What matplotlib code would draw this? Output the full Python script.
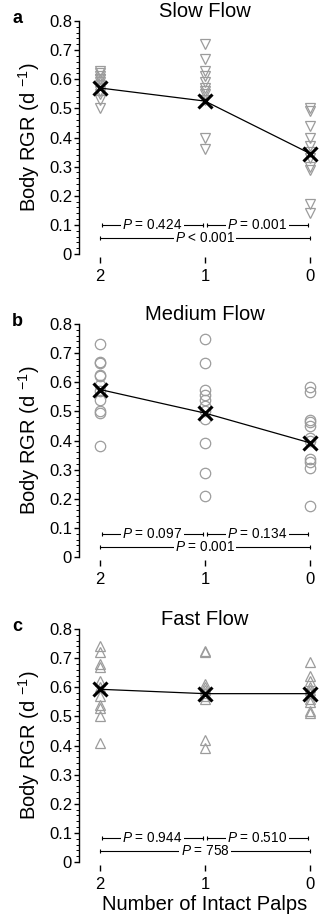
import matplotlib
matplotlib.use('Agg')
import numpy as np
import matplotlib.pyplot as plt
from matplotlib.ticker import MultipleLocator, FuncFormatter

plt.rcParams['font.family'] = ['Liberation Sans', 'DejaVu Sans']
plt.rcParams['mathtext.fontset'] = 'custom'
plt.rcParams['mathtext.rm'] = 'Liberation Sans'
plt.rcParams['mathtext.it'] = 'Liberation Sans:italic'

# ---------------- data ----------------
categories = ['2', '1', '0']
panel_letters = ['a', 'b', 'c']
titles = ['Slow Flow', 'Medium Flow', 'Fast Flow']

slow_2 = [0.63, 0.62, 0.61, 0.60, 0.60, 0.59, 0.58, 0.56, 0.55, 0.53, 0.50]
slow_1 = [0.72, 0.67, 0.63, 0.61, 0.59, 0.57, 0.56, 0.55, 0.53, 0.40, 0.36]
slow_0 = [0.50, 0.49, 0.44, 0.40, 0.37, 0.35, 0.33, 0.30, 0.29, 0.17, 0.14]
slow_means = [0.570, 0.525, 0.345]
slow_p = ['= 0.424', '= 0.001', '< 0.001']

medium_2 = [0.73, 0.67, 0.665, 0.625, 0.62, 0.59, 0.57, 0.54, 0.50, 0.495, 0.38]
medium_1 = [0.75, 0.665, 0.575, 0.555, 0.54, 0.52, 0.50, 0.475, 0.39, 0.29, 0.21]
medium_0 = [0.585, 0.565, 0.47, 0.465, 0.45, 0.41, 0.40, 0.335, 0.325, 0.305, 0.175]
medium_means = [0.575, 0.494, 0.392]
medium_p = ['= 0.097', '= 0.134', '= 0.001']

fast_2 = [0.74, 0.72, 0.68, 0.67, 0.62, 0.60, 0.57, 0.54, 0.53, 0.50, 0.41]
fast_1 = [0.725, 0.72, 0.61, 0.60, 0.59, 0.58, 0.57, 0.56, 0.42, 0.39]
fast_0 = [0.685, 0.64, 0.62, 0.60, 0.59, 0.58, 0.56, 0.55, 0.52, 0.51]
fast_means = [0.593, 0.578, 0.578]
fast_p = ['= 0.944', '= 0.510', '= 758']

panels = [
    dict(groups=[slow_2, slow_1, slow_0], means=slow_means, p=slow_p, marker='v', bar_y=(0.100, 0.054)),
    dict(groups=[medium_2, medium_1, medium_0], means=medium_means, p=medium_p, marker='o', bar_y=(0.079, 0.033)),
    dict(groups=[fast_2, fast_1, fast_0], means=fast_means, p=fast_p, marker='^', bar_y=(0.082, 0.037)),
]

# ---------------- figure ----------------
W, H = 332, 919
fig = plt.figure(figsize=(W / 100, H / 100), dpi=100)

left, width = 79 / W, 252 / W
bottoms_px = [254, 557, 862]
height = 233 / H

gray = '#9c9c9c'
xpos = np.arange(len(categories))

for i, pan in enumerate(panels):
    ax = fig.add_axes([left, 1 - bottoms_px[i] / H, width, height])
    for x, vals in zip(xpos, pan['groups']):
        ax.plot(np.full(len(vals), x), vals, ls='none', marker=pan['marker'],
                mfc='none', mec=gray, ms=7.5, mew=0.9, zorder=2)
    ax.plot(xpos, pan['means'], '-', color='black', lw=0.9, zorder=3)
    ax.plot(xpos, pan['means'], ls='none', marker='x', color='black', ms=9.5, mew=2.2, zorder=4)

    # significance bars
    yh, yl = pan['bar_y']
    lw_bar = 0.8
    for (a, b), lab in zip([(0, 1), (1, 2)], pan['p'][:2]):
        ax.plot([a + 0.015, b - 0.015], [yh, yh], color='black', lw=lw_bar, zorder=3)
        ax.plot([a + 0.015, b - 0.015], [yh, yh], ls='none', marker='|', ms=3.5, mew=0.8, color='black', zorder=3)
        ax.text((a + b) / 2, yh, '$P$ ' + lab, ha='center', va='center', fontsize=9.8,
                bbox=dict(facecolor='white', edgecolor='none', pad=1.0), zorder=5)
    ax.plot([0, 2], [yl, yl], color='black', lw=lw_bar, zorder=3)
    ax.plot([0, 2], [yl, yl], ls='none', marker='|', ms=3.5, mew=0.8, color='black', zorder=3)
    ax.text(1, yl, '$P$ ' + pan['p'][2], ha='center', va='center', fontsize=9.8,
            bbox=dict(facecolor='white', edgecolor='none', pad=1.0), zorder=5)

    ax.set_xlim(-0.2, 2.2)
    ax.set_ylim(0, 0.8)
    ax.set_xticks(xpos)
    ax.set_xticklabels(categories)
    ax.yaxis.set_major_locator(MultipleLocator(0.1))
    ax.yaxis.set_minor_locator(MultipleLocator(0.02))
    ax.yaxis.set_major_formatter(FuncFormatter(lambda v, p: '0' if abs(v) < 1e-9 else f'{v:.1f}'))
    for s in ['top', 'right']:
        ax.spines[s].set_visible(False)
    ax.spines['bottom'].set_visible(False)
    ax.spines['bottom'].set_position(('outward', 2))
    ax.spines['left'].set_linewidth(1.0)
    ax.tick_params(axis='y', which='major', direction='out', length=3.5, width=1.0, pad=1.5, labelsize=12)
    ax.tick_params(axis='y', which='minor', direction='out', length=2.2, width=0.7)
    ax.tick_params(axis='x', which='major', direction='out', length=4, width=1.0, pad=5, labelsize=12)

    ax.set_ylabel('Body RGR (d $^{-1}$)', fontsize=14.5, labelpad=5)
    ax.set_title(titles[i], fontsize=14.5, pad=1)
    ax.text(-0.245, 1.01, panel_letters[i], transform=ax.transAxes, fontsize=13,
            fontweight='bold', ha='center', va='center')
    if i == len(panels) - 1:
        ax.set_xlabel('Number of Intact Palps', fontsize=14.5, labelpad=2)

fig.savefig('out.png', dpi=100)
